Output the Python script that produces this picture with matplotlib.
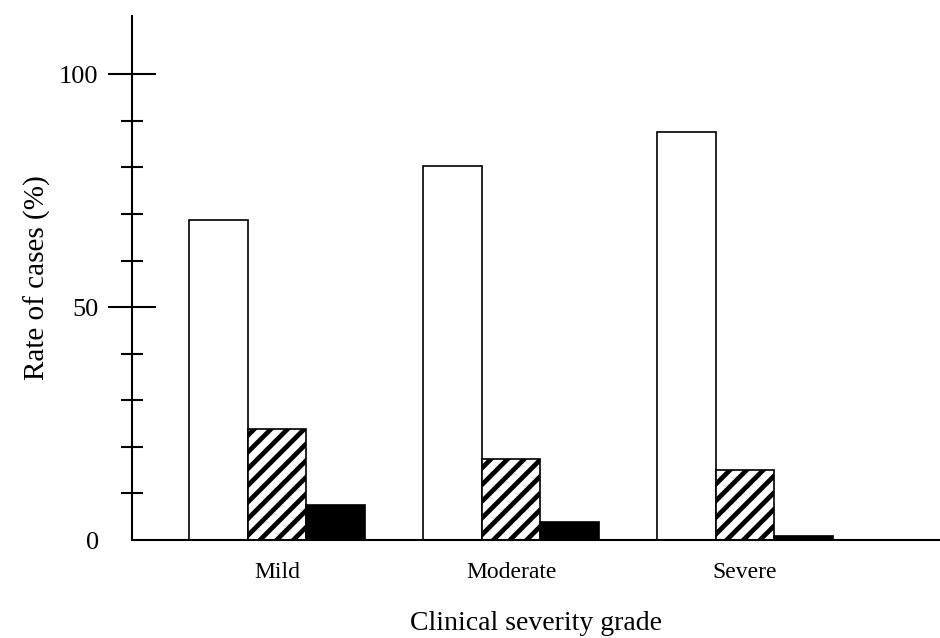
import matplotlib.pyplot as plt
from matplotlib.ticker import FixedLocator

grades = ['Mild', 'Moderate', 'Severe']
open_bars = [68.8, 80.2, 87.7]
hatched_bars = [23.9, 17.4, 15.1]
black_bars = [7.5, 3.9, 0.9]

plt.rcParams['font.family'] = ['Liberation Serif', 'DejaVu Serif']
plt.rcParams['hatch.linewidth'] = 3.4

fig = plt.figure(figsize=(9.4, 6.38), dpi=100)
ax = fig.add_axes([0.1404, 0.1536, 0.8596, 0.8213])

x = list(range(len(grades)))
w = 0.25
ax.bar([i - w for i in x], open_bars, w, color='white', edgecolor='black', linewidth=1.2)
ax.bar(x, hatched_bars, w, color='white', edgecolor='black', linewidth=1.2, hatch='//')
ax.bar([i + w for i in x], black_bars, w, color='black', edgecolor='black', linewidth=1.2)

ax.set_xlim(-0.62, 2.833)
ax.set_ylim(0, 112.5)

for side in ('top', 'right'):
    ax.spines[side].set_visible(False)
ax.spines['left'].set_linewidth(1.5)
ax.spines['bottom'].set_linewidth(1.5)

ax.set_xticks(x)
ax.set_xticklabels(grades, fontsize=17)
ax.tick_params(axis='x', length=0, pad=16)

ax.set_yticks([0, 50, 100])
ax.set_yticklabels(['0', '50', '100'], fontsize=19)
ax.yaxis.set_minor_locator(FixedLocator([10, 20, 30, 40, 60, 70, 80, 90]))
ax.tick_params(axis='y', which='major', direction='inout', length=34, width=1.5, pad=7)
ax.tick_params(axis='y', which='minor', direction='inout', length=16.5, width=1.5)
ax.yaxis.get_major_ticks()[0].tick1line.set_visible(False)

ax.set_xlabel('Clinical severity grade', fontsize=20, labelpad=20)
ax.set_ylabel('Rate of cases (%)', fontsize=21, labelpad=6)

plt.savefig('out.png', dpi=100)
plt.close()
